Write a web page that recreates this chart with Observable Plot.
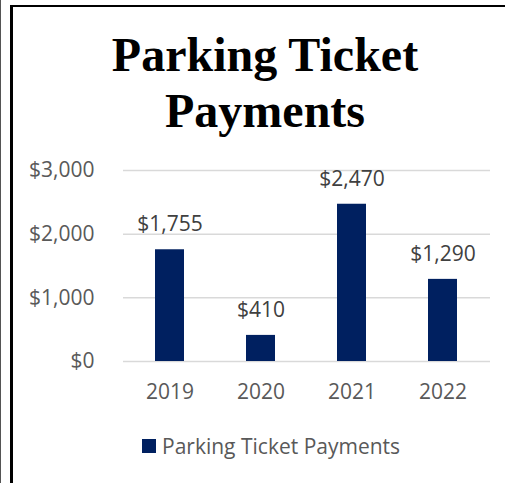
<!DOCTYPE html>
<html>
<head>
<meta charset="utf-8">
<script src="https://cdn.jsdelivr.net/npm/d3@7"></script>
<script src="https://cdn.jsdelivr.net/npm/@observablehq/plot@0.6"></script>
<style>
  html, body { margin: 0; padding: 0; background: #fff; width: 505px; height: 483px; overflow: hidden; }
  #outer { position: absolute; left: 0; top: 0; width: 504px; height: 483px; border-left: 1px solid #555; }
  #frame { position: absolute; left: 10px; top: 5px; width: 495px; height: 478px; border-left: 3px solid #000; border-top: 2px solid #000; box-sizing: border-box; }
  #title { position: absolute; left: 0; width: 530px; top: 27px; text-align: center; font-family: "Liberation Serif", "Times New Roman", serif; font-weight: bold; font-size: 48px; line-height: 56px; color: #000; }
  #chart { position: absolute; left: 0; top: 140px; }
  #legend { position: absolute; left: 142px; top: 432px; display: flex; align-items: center; font-family: "Open Sans", sans-serif; font-size: 21px; color: #595959; }
  #legend .sw { width: 14px; height: 14px; background: #002060; margin-right: 6px; }
</style>
</head>
<body>
<div id="outer"></div>
<div id="frame"></div>
<div id="title">Parking Ticket<br>Payments</div>
<div id="chart"></div>
<div id="legend"><div class="sw"></div><span>Parking Ticket Payments</span></div>
<script>
const years = ["2019", "2020", "2021", "2022"];
const payments = [1755, 410, 2470, 1290];
const yTicks = [0, 1000, 2000, 3000];
const seriesName = "Parking Ticket Payments";

const data = years.map((y, i) => ({year: y, value: payments[i]}));
const fmt = d3.format("$,");

const plot = Plot.plot({
  width: 505,
  height: 275,
  marginLeft: 123,
  marginRight: 15,
  marginTop: 30,
  marginBottom: 54,
  style: {fontFamily: "Open Sans, sans-serif", fontSize: "21px", color: "#595959", background: "transparent", overflow: "visible"},
  x: {domain: years, paddingInner: 0.68, paddingOuter: 0.34, label: null, tickSize: 0, tickPadding: 23},
  y: {domain: [0, 3000], ticks: yTicks, tickFormat: fmt, label: null, tickSize: 0, tickPadding: 29},
  marks: [
    Plot.ruleY(yTicks, {stroke: "#d9d9d9", strokeWidth: 1.5}),
    Plot.barY(data, {x: "year", y: "value", fill: "#002060"}),
    Plot.text(data, {x: "year", y: "value", text: d => fmt(d.value), dy: -25, fill: "#404040", fontSize: 21})
  ]
});
document.getElementById("chart").appendChild(plot);
</script>
</body>
</html>
